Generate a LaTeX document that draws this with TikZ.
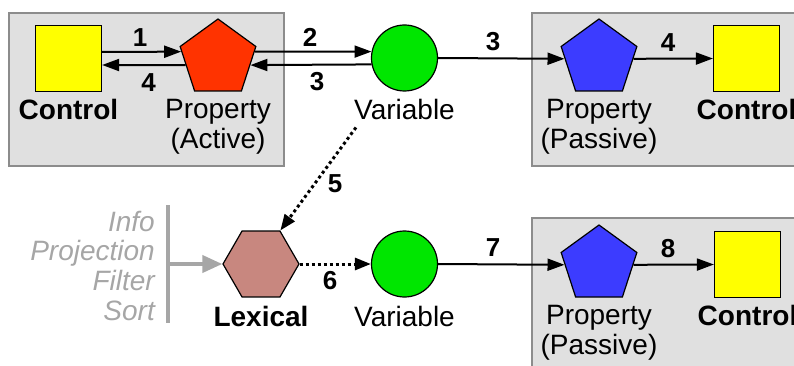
\documentclass[tikz,border=0pt]{standalone}
\usepackage{fontspec}
\setmainfont{Liberation Sans}
\usetikzlibrary{shapes.geometric,arrows.meta}

\definecolor{panelfill}{HTML}{E0E0E0}
\definecolor{panelline}{HTML}{8C8C8C}
\definecolor{ctlyellow}{HTML}{FFFF00}
\definecolor{propred}{HTML}{FF3300}
\definecolor{propblue}{HTML}{3C3CFF}
\definecolor{vargreen}{HTML}{00E600}
\definecolor{lexbrown}{HTML}{C8877F}
\definecolor{hintgray}{HTML}{A6A6A6}

\begin{document}
\begin{tikzpicture}[x=1pt,y=-1pt,
  panel/.style={fill=panelfill,draw=panelline,line width=1.5pt},
  ctl/.style={draw=black,line width=1.2pt,fill=ctlyellow,minimum size=66pt,inner sep=0pt},
  pent/.style={regular polygon,regular polygon sides=5,draw=black,line width=1.2pt,minimum size=79.6pt,inner sep=0pt},
  hexa/.style={regular polygon,regular polygon sides=6,draw=black,line width=1.2pt,minimum size=76pt,inner sep=0pt,fill=lexbrown},
  varc/.style={circle,draw=black,line width=1.2pt,fill=vargreen,minimum size=66pt,inner sep=0pt},
  txt/.style={inner sep=0pt,anchor=base,align=center,font=\fontsize{28}{30}\selectfont},
  btxt/.style={txt,font=\fontsize{28}{30}\selectfont\bfseries},
  num/.style={inner sep=0pt,font=\fontsize{26}{26}\selectfont\bfseries},
  conn/.style={line width=2pt,-{Triangle[length=17pt,width=12pt]}},
  dotconn/.style={line width=3pt,dash pattern=on 3pt off 3pt,-{Triangle[length=16pt,width=12pt]}},
  hint/.style={inner sep=0pt,anchor=base east,align=right,text=hintgray,font=\fontsize{28}{29.6}\selectfont\itshape}
]
\useasboundingbox (0,0) rectangle (794,366);

% grey panels
\path[panel] (9,13) rectangle (284,166);
\path[panel] (532,13) rectangle (810,166);
\path[panel] (532,218) rectangle (810,380);

% top row shapes
\node[ctl] (c1) at (68.5,58.5) {};
\node[pent,fill=propred] (p1) at (218,58.8) {};
\node[varc] (v1) at (404.5,58) {};
\node[pent,fill=propblue] (p2) at (599,58.8) {};
\node[ctl] (c2) at (746.5,58.5) {};

% bottom row shapes
\node[hexa] (lx) at (261,264) {};
\node[varc] (v2) at (404.5,264) {};
\node[pent,fill=propblue] (p3) at (599,264.8) {};
\node[ctl] (c3) at (747.5,264.5) {};

% captions (base anchor sits on the last line of a multi-line caption)
\node[btxt] (t1) at (68.5,120) {Control};
\node[txt] (t2) at (218,149) {Property\\(Active)};
\node[txt] (t3) at (404.5,120) {Variable};
\node[txt] (t4) at (599,149) {Property\\(Passive)};
\node[btxt] (t5) at (746.5,120) {Control};
\node[btxt] (t6) at (261,326) {Lexical};
\node[txt] (t7) at (404.5,326) {Variable};
\node[txt] (t8) at (599,354) {Property\\(Passive)};
\node[btxt] (t9) at (747.5,325) {Control};

% clause list on the left
\node[hint] (h1) at (155,320) {Info\\Projection\\Filter\\Sort};
\coordinate (bartop) at (168,205);
\coordinate (barbot) at (168,323);
\coordinate (barmid) at (168,264);
\draw[hintgray,line width=4pt] (bartop) -- (barbot);
\draw[hintgray,line width=4pt,-{Triangle[length=20pt,width=17pt]}] (barmid) -- (lx.west);

% top connectors
\draw[conn] ([yshift=6.5pt]c1.east) -- (p1.169);
\draw[conn] (p1.191) -- ([yshift=-6.5pt]c1.east);
\draw[conn] (p1.11) -- (v1.169);
\draw[conn] (v1.191) -- (p1.349);
\draw[conn] (v1.east) -- (p2.180);
\draw[conn] (p2.0) -- (c2.west);

% dotted links to the lexical node
\draw[dotconn] ([shift={(2pt,-7pt)}]t3.south west) -- (lx.60);
\draw[dotconn] (lx.east) -- (v2.west);

% bottom connectors
\draw[conn] (v2.east) -- (p3.180);
\draw[conn] (p3.0) -- (c3.west);

% step numbers
\node[num] (n1) at (140,37.5) {1};
\node[num] (n4a) at (148.5,82.5) {4};
\node[num] (n2) at (310,37) {2};
\node[num] (n3a) at (317,82) {3};
\node[num] (n3b) at (493,42) {3};
\node[num] (n4b) at (668,43) {4};
\node[num] (n5) at (335,184) {5};
\node[num] (n6) at (330,281) {6};
\node[num] (n7) at (493,248) {7};
\node[num] (n8) at (668,249) {8};
\end{tikzpicture}
\end{document}
